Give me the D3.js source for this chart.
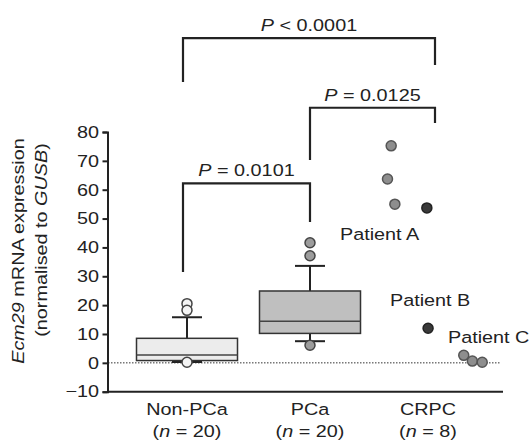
<!DOCTYPE html>
<html>
<head>
<meta charset="utf-8">
<script src="https://cdn.jsdelivr.net/npm/d3@7"></script>
<style>
  body { margin: 0; background: #fff; }
  svg { display: block; }
  text { font-family: "Liberation Sans", Arial, sans-serif; fill: #222; }
</style>
</head>
<body>
<script>
// categories and sample sizes
var groups = ["Non-PCa", "PCa", "CRPC"];
var groupN = ["20", "20", "8"];

// box summaries: [low whisker, q1, median, q3, high whisker]
var boxStats = [
    [0.3, 0.8, 2.7, 8.5, 15.8],
    [7.5, 10.2, 14.4, 24.9, 33.6]
];
var outliers = [
    [20.5, 18.2, 0.2],
    [41.6, 37.1, 6.1]
];

// CRPC individual points (value, horizontal jitter as fraction of step, dark = named patient)
var crpcValues = [75.2, 63.7, 55.0, 53.7, 12.0, 2.6, 0.6, 0.2];
var crpcJitter = [-0.34, -0.37, -0.31, -0.05, -0.04, 0.25, 0.32, 0.40];
var crpcDark = [false, false, false, true, true, false, false, false];

// patient annotations
var patients = ["Patient A", "Patient B", "Patient C"];

// significance brackets: [from group, to group, top, left leg end, right leg end, label]
var brackets = [
    [0, 2, 112.5, 97.3, 103.2, "< 0.0001"],
    [1, 2, 88.4, 70.3, 83.1, "= 0.0125"],
    [0, 1, 62.2, 31.5, 48.8, "= 0.0101"]
];

var yTicks = [-10, 0, 10, 20, 30, 40, 50, 60, 70, 80];

var width = 531, height = 440;

var svg = d3.select("body").append("svg")
    .attr("width", width)
    .attr("height", height);

// scales
var y = d3.scaleLinear().domain([-10, 80]).range([391.7, 132]);
var x = d3.scalePoint().domain(groups).range([187, 433]);
var step = x.step();
var boxW = 101;

var fs = 16.5;   // font size
var sx = 1.2;    // the lettering in the figure is wide, stretch it a bit

// text helper: places a horizontally stretched label
function label(x0, y0, anchor, rot) {
    var tr = "translate(" + x0 + "," + y0 + ")" + (rot ? " rotate(" + rot + ")" : "") + " scale(" + sx + ",1)";
    return svg.append("text")
        .attr("transform", tr)
        .attr("text-anchor", anchor || "start")
        .attr("font-size", fs);
}

// zero reference line
svg.append("line")
    .attr("x1", 108).attr("x2", 500)
    .attr("y1", y(0)).attr("y2", y(0))
    .attr("stroke", "#333").attr("stroke-width", 1)
    .attr("stroke-dasharray", "1.5,1.5");

// boxes
var fills = ["#ececec", "#bfbfbf"];
var outFills = ["#f4f4f4", "#9c9c9c"];
boxStats.forEach(function (s, i) {
    var cx = x(groups[i]);
    var g = svg.append("g");
    // whisker stem
    g.append("line")
        .attr("x1", cx).attr("x2", cx)
        .attr("y1", y(s[0])).attr("y2", y(s[4]))
        .attr("stroke", "#222").attr("stroke-width", 2);
    // caps
    [s[0], s[4]].forEach(function (v) {
        g.append("line")
            .attr("x1", cx - 15).attr("x2", cx + 15)
            .attr("y1", y(v)).attr("y2", y(v))
            .attr("stroke", "#222").attr("stroke-width", 2);
    });
    g.append("rect")
        .attr("x", cx - boxW / 2).attr("width", boxW)
        .attr("y", y(s[3])).attr("height", y(s[1]) - y(s[3]))
        .attr("fill", fills[i]).attr("stroke", "#333").attr("stroke-width", 1.5);
    g.append("line")
        .attr("x1", cx - boxW / 2).attr("x2", cx + boxW / 2)
        .attr("y1", y(s[2])).attr("y2", y(s[2]))
        .attr("stroke", "#444").attr("stroke-width", 1.5);
    g.selectAll("circle")
        .data(outliers[i])
        .enter().append("circle")
        .attr("cx", cx)
        .attr("cy", function (d) { return y(d); })
        .attr("r", 5)
        .attr("fill", outFills[i])
        .attr("stroke", "#444").attr("stroke-width", 1.5);
});

// CRPC points
svg.selectAll(".crpc")
    .data(crpcValues)
    .enter().append("circle")
    .attr("class", "crpc")
    .attr("cx", function (d, i) { return x("CRPC") + crpcJitter[i] * step; })
    .attr("cy", function (d) { return y(d); })
    .attr("r", 5)
    .attr("fill", function (d, i) { return crpcDark[i] ? "#3a3a3a" : "#8e8e8e"; })
    .attr("stroke", function (d, i) { return crpcDark[i] ? "#222" : "#555"; })
    .attr("stroke-width", 1.5);

// patient labels
var patientPos = [[-93, 42.5], [-43, 19.8], [15, 6.9]];
patients.forEach(function (p, i) {
    label(x("CRPC") + patientPos[i][0], y(patientPos[i][1])).text(p);
});

// brackets
brackets.forEach(function (b) {
    var x1 = x(groups[b[0]]) - (b[0] === 0 ? 4 : 0), x2 = x(groups[b[1]]) + (b[1] === 2 ? 2 : 0);
    svg.append("path")
        .attr("d", "M" + x1 + "," + y(b[3]) + "V" + y(b[2]) + "H" + x2 + "V" + y(b[4]))
        .attr("fill", "none").attr("stroke", "#222").attr("stroke-width", 2.2);
    var t = label((x1 + x2) / 2, y(b[2]) - 7, "middle");
    t.append("tspan").attr("font-style", "italic").text("P");
    t.append("tspan").text(" " + b[5]);
});

// y axis
var yAxis = svg.append("g")
    .attr("transform", "translate(107.5,0)")
    .call(d3.axisLeft(y).tickValues(yTicks).tickSize(5).tickPadding(3)
        .tickFormat(function (d) { return d < 0 ? "\u2212" + Math.abs(d) : d; }));
yAxis.select(".domain").attr("stroke", "#222").attr("stroke-width", 2);
yAxis.selectAll(".tick line").attr("stroke", "#222").attr("stroke-width", 2);
yAxis.selectAll(".tick text")
    .attr("font-size", fs).attr("font-family", "Liberation Sans, Arial, sans-serif")
    .attr("fill", "#222")
    .attr("x", -8.5 / sx)
    .attr("transform", "scale(" + sx + ",1)");

// x axis line (no ticks)
svg.append("line")
    .attr("x1", 107).attr("x2", 503)
    .attr("y1", y(-10)).attr("y2", y(-10))
    .attr("stroke", "#222").attr("stroke-width", 2);

// category labels
var labelX = [0, 0, -5];
groups.forEach(function (g, i) {
    label(x(g) + labelX[i], 415, "middle").text(g);
    var t2 = label(x(g) + labelX[i], 437, "middle");
    t2.append("tspan").text("(");
    t2.append("tspan").attr("font-style", "italic").text("n");
    t2.append("tspan").text(" = " + groupN[i] + ")");
});

// y axis title
var yt1 = label(24, 251, "middle", -90);
yt1.append("tspan").attr("font-style", "italic").text("Ecm29");
yt1.append("tspan").text(" mRNA expression");
var yt2 = label(47, 240, "middle", -90);
yt2.append("tspan").text("(normalised to ");
yt2.append("tspan").attr("font-style", "italic").text("GUSB");
yt2.append("tspan").text(")");
</script>
</body>
</html>
